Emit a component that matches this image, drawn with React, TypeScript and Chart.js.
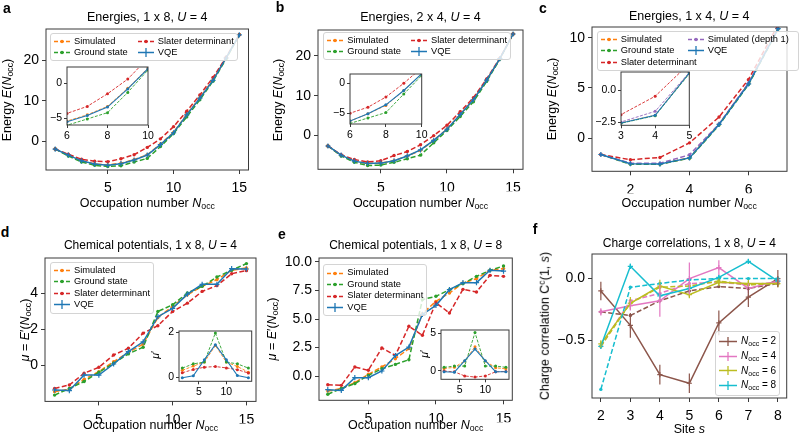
import React, { useEffect, useRef } from "react";
import { Chart, registerables } from "chart.js";
Chart.register(...registerables);

const FONT = '"Liberation Sans", Arial, Helvetica, sans-serif';
Chart.defaults.font.family = FONT;

const BLUE = "#1f77b4", ORANGE = "#ff7f0e", GREEN = "#2ca02c", RED = "#d62728", PURPLE = "#9467bd";
const BROWN = "#8c564b", PINK = "#e377c2", OLIVE = "#bcbd22", CYAN = "#17becf";

// ---------------- data ----------------
// panel a: energies 1x8, U=4
const nOccA = [1, 2, 3, 4, 5, 6, 7, 8, 9, 10, 11, 12, 13, 14, 15];
const aVQE = [-1.9, -3.4, -4.8, -5.6, -5.9, -5.5, -4.6, -3.4, -0.8, 2.1, 6.5, 10.6, 15.0, 20.5, 26.2];
const aSim = [-1.9, -3.4, -4.8, -5.6, -5.8, -5.4, -4.5, -3.3, -0.7, 2.2, 6.6, 10.7, 15.1, 20.5, 26.2];
const aGround = [-1.9, -3.6, -5.1, -5.9, -6.2, -6.0, -5.1, -4.2, -1.3, 1.9, 6.0, 10.2, 14.8, 20.3, 26.2];
const aSlater = [-1.9, -3.2, -4.4, -4.9, -5.0, -4.3, -3.3, -1.5, 0.6, 3.6, 7.4, 11.4, 15.7, 20.7, 26.2];

// panel b: energies 2x4, U=4
const nOccB = [1, 2, 3, 4, 5, 6, 7, 8, 9, 10, 11, 12, 13, 14, 15];
const bVQE = [-2.6, -4.9, -6.4, -7.0, -6.9, -6.3, -5.1, -3.6, -1.2, 1.6, 5.3, 9.0, 13.9, 19.3, 25.5];
const bSim = [-2.6, -4.9, -6.4, -7.0, -6.9, -6.3, -5.1, -3.7, -1.2, 1.6, 5.3, 9.0, 13.9, 19.3, 25.5];
const bGround = [-2.6, -5.1, -6.7, -7.5, -7.4, -6.7, -5.8, -4.9, -1.8, 1.3, 4.8, 8.5, 13.6, 19.2, 25.5];
const bSlater = [-2.6, -4.8, -6.0, -6.6, -6.3, -5.0, -4.0, -2.3, 0.0, 2.6, 6.0, 9.5, 14.2, 19.4, 25.5];

// panel c: energies 1x4, U=4
const nOccC = [1, 2, 3, 4, 5, 6, 7];
const cVQE = [-1.63, -2.55, -2.58, -1.97, 1.36, 5.4, 10.9];
const cSim = [-1.63, -2.55, -2.58, -1.97, 1.38, 5.45, 10.9];
const cGround = [-1.63, -2.6, -2.6, -2.0, 1.3, 5.35, 10.85];
const cSlater = [-1.63, -2.15, -1.92, -0.47, 2.1, 5.85, 11.3];
const cDepth1 = [-1.63, -2.5, -2.5, -1.66, 1.4, 5.5, 10.9];

// panel d: chemical potentials 1x8, U=4
const nOccMu = [2, 3, 4, 5, 6, 7, 8, 9, 10, 11, 12, 13, 14, 15];
const dVQE = [-1.37, -1.4, -0.54, -0.54, 0.07, 0.76, 1.3, 2.69, 3.15, 3.94, 4.48, 4.48, 5.35, 5.33];
const dSim = [-1.46, -1.33, -0.78, -0.35, 0.2, 0.72, 1.17, 2.65, 3.26, 3.9, 4.37, 4.74, 5.26, 5.39];
const dGround = [-1.65, -1.28, -0.9, -0.39, 0.11, 0.63, 1.0, 2.98, 3.35, 4.0, 4.37, 4.89, 5.26, 5.63];
const dSlater = [-1.28, -1.09, -0.44, -0.11, 0.57, 0.94, 1.78, 2.19, 2.98, 3.44, 4.09, 4.41, 5.07, 5.24];

// insets d/e: mu'
const nOccMuP = [2, 4, 6, 8, 10, 12, 14];
const ddVQE = [-0.03, 0.06, 0.77, 1.45, 0.77, 0.07, -0.03];
const ddSim = [0.3, 0.49, 0.67, 1.41, 0.67, 0.47, 0.22];
const ddGround = [0.4, 0.59, 0.67, 1.97, 0.67, 0.59, 0.4];
const ddSlater = [0.19, 0.34, 0.44, 0.47, 0.41, 0.33, 0.18];

// panel e: chemical potentials 1x8, U=8
const eVQE = [-1.2, -1.26, -0.15, -0.15, 0.44, 1.8, 2.54, 5.4, 6.2, 7.57, 8.19, 8.19, 9.27, 9.2];
const eSim = [-1.32, -1.1, -0.58, 0.15, 0.79, 1.52, 2.4, 5.47, 6.55, 7.28, 8.16, 8.54, 9.27, 9.42];
const eGround = [-1.6, -1.1, -0.67, 0.06, 0.64, 1.02, 1.43, 6.7, 6.99, 7.57, 8.1, 8.74, 9.27, 9.65];
const eSlater = [-0.76, -0.82, 0.79, 0.5, 2.46, 1.81, 4.36, 3.57, 6.43, 5.53, 7.6, 7.37, 8.83, 8.74];
const eeVQE = [-0.13, -0.2, 1.34, 2.9, 1.34, -0.13, -0.13];
const eeSim = [0.3, 0.45, 1.3, 3.2, 1.3, 0.4, 0.25];
const eeGround = [0.45, 0.62, 0.62, 5.1, 0.62, 0.62, 0.45];
const eeSlater = [-0.05, -0.15, -0.7, -0.85, -0.7, -0.15, -0.1];

// panel f: charge correlations
const sites = [2, 3, 4, 5, 6, 7, 8];
const f2 = [-0.1, -0.38, -0.78, -0.85, -0.36, -0.15, 0.0];
const f2err = [0.075, 0.1, 0.08, 0.08, 0.1, 0.08, 0.07];
const f2ref = [-0.27, -0.3, -0.18, -0.1, -0.065, -0.08, -0.04];
const f4 = [-0.27, -0.22, -0.18, 0.0, 0.09, -0.08, -0.02];
const f4err = [0.03, 0.04, 0.13, 0.13, 0.06, 0.04, 0.02];
const f4ref = [-0.55, -0.18, -0.12, -0.04, -0.03, -0.05, -0.03];
const f6 = [-0.53, -0.2, -0.06, -0.13, -0.03, -0.04, -0.04];
const f6err = [0.03, 0.05, 0.05, 0.03, 0.03, 0.03, 0.03];
const f6ref = [-0.55, -0.2, -0.07, -0.06, -0.02, -0.05, -0.04];
const f8 = [-0.55, 0.1, -0.14, -0.08, 0.01, 0.14, -0.02];
const f8err = [0.02, 0.02, 0.02, 0.02, 0.02, 0.02, 0.02];
const f8ref = [-0.9, -0.07, -0.04, -0.01, 0.0, 0.0, 0.0];

// ticks
const ticksE = [0, 10, 20];
const ticksN = [5, 10, 15];
const ticksInsetN = [6, 8, 10];
const ticksInsetE = [-5, 0];
const ticksC_X = [2, 4, 6];
const ticksC_Y = [0, 5, 10];
const ticksCInsetX = [3, 4, 5];
const ticksCInsetY = [-2.5, 0];
const ticksD_Y = [0, 2, 4];
const ticksE_Y = [0, 2.5, 5, 7.5, 10];
const ticksMuP_X = [5, 10];
const ticksDInsetY = [0, 2];
const ticksEInsetY = [0, 5];
const ticksSite = [2, 3, 4, 5, 6, 7, 8];
const ticksF_Y = [-0.5, 0];

// ---------------- chart helpers ----------------
type Series = {
  x: number[]; y: number[]; color: string; dash: boolean; cross?: boolean;
  lw: number; r: number; err?: number[];
};
type Spec = {
  L: number; T: number; R: number; B: number;
  xMin: number; xMax: number; yMin: number; yMax: number;
  xTicks: number[]; yTicks: number[]; yDec?: number; xDec?: number;
  series: Series[]; inset?: boolean;
};

function fmt(v: number, dec = 0) {
  const s = Math.abs(v).toFixed(dec);
  return v < 0 ? "\u2212" + s : s;
}

const main = (x: number[], y: number[], color: string, kind: "vqe" | "dash", err?: number[]): Series =>
  kind === "vqe"
    ? { x, y, color, dash: false, cross: true, lw: 1.5, r: 2.6, err }
    : { x, y, color, dash: true, lw: 1.5, r: 1.7 };
const small = (x: number[], y: number[], color: string, kind: "vqe" | "dash"): Series =>
  kind === "vqe"
    ? { x, y, color, dash: false, lw: 1.1, r: 1.5 }
    : { x, y, color, dash: true, lw: 0.9, r: 1.5 };

const errPlugin = {
  id: "errbars",
  afterDatasetsDraw(chart: any) {
    const ctx = chart.ctx;
    const xs = chart.scales.x, ys = chart.scales.y;
    const ca = chart.chartArea;
    chart.data.datasets.forEach((ds: any) => {
      if (!ds.errors) return;
      ctx.save();
      ctx.beginPath();
      ctx.rect(ca.left, ca.top, ca.right - ca.left, ca.bottom - ca.top);
      ctx.clip();
      ctx.strokeStyle = ds.borderColor;
      ctx.lineWidth = 1.2;
      ds.data.forEach((p: any, i: number) => {
        const e = ds.errors[i];
        const px = xs.getPixelForValue(p.x);
        ctx.beginPath();
        ctx.moveTo(px, ys.getPixelForValue(p.y - e));
        ctx.lineTo(px, ys.getPixelForValue(p.y + e));
        ctx.stroke();
      });
      ctx.restore();
    });
  },
};

const framePlugin = {
  id: "frame",
  beforeDraw(chart: any, _a: any, opts: any) {
    if (!opts || !opts.inset) return;
    const ca = chart.chartArea;
    const ctx = chart.ctx;
    ctx.save();
    ctx.fillStyle = "#ffffff";
    ctx.fillRect(ca.left, ca.top, ca.right - ca.left, ca.bottom - ca.top);
    ctx.restore();
  },
  afterDraw(chart: any) {
    const ca = chart.chartArea;
    const ctx = chart.ctx;
    ctx.save();
    ctx.strokeStyle = "#3a3a3a";
    ctx.lineWidth = 1;
    ctx.strokeRect(ca.left, ca.top, ca.right - ca.left, ca.bottom - ca.top);
    ctx.restore();
  },
};

function ChartBox({ spec }: { spec: Spec }) {
  const ref = useRef<HTMLCanvasElement>(null);
  const PL = 60, PT = 14;
  const W = spec.R - spec.L, H = spec.B - spec.T;
  const cw = Math.ceil(W + PL + 30);
  const ch = Math.ceil(H + PT + 34);
  const PR = cw - PL - W;
  const PB = ch - PT - H;
  const tickFont = spec.inset ? 10.5 : 14;
  const tl = spec.inset ? 3 : 4;
  const yW = 40, xH = 22;

  useEffect(() => {
    const datasets = spec.series.map((s) => ({
      data: s.x.map((x, i) => ({ x, y: s.y[i] })),
      showLine: true,
      borderColor: s.color,
      backgroundColor: s.color,
      borderWidth: s.lw,
      borderDash: s.dash ? (spec.inset ? [3, 1.5] : [5, 2.4]) : [],
      pointStyle: s.cross ? "cross" : "circle",
      pointRadius: s.r,
      pointHoverRadius: s.r,
      pointBorderWidth: s.cross ? 1.2 : 0,
      pointBorderColor: s.color,
      pointBackgroundColor: s.color,
      tension: 0,
      errors: s.err,
    }));
    const axis = (ticks: number[], dec: number, horiz: boolean, min: number, max: number) => ({
      type: "linear" as const,
      min,
      max,
      afterFit: (sc: any) => {
        if (horiz) sc.height = xH;
        else sc.width = yW;
      },
      afterBuildTicks: (sc: any) => {
        sc.ticks = ticks.map((v) => ({ value: v }));
      },
      grid: {
        display: true,
        drawOnChartArea: false,
        drawTicks: true,
        tickLength: tl,
        color: "#3a3a3a",
        lineWidth: 1,
      },
      border: { display: false },
      ticks: {
        color: "#000",
        font: { size: tickFont, family: FONT },
        padding: spec.inset ? 2 : horiz ? 6 : 3,
        maxRotation: 0,
        autoSkip: false,
        callback: (v: any) => fmt(Number(v), dec),
      },
    });
    const chart = new Chart(ref.current as HTMLCanvasElement, {
      type: "scatter",
      data: { datasets: datasets as any },
      options: {
        responsive: false,
        animation: false,
        devicePixelRatio: 1,
        events: [],
        layout: { padding: { left: PL - yW, right: PR, top: PT, bottom: PB - xH } },
        plugins: {
          legend: { display: false },
          tooltip: { enabled: false },
          frame: { inset: !!spec.inset },
        } as any,
        scales: {
          x: axis(spec.xTicks, spec.xDec ?? 0, true, spec.xMin, spec.xMax) as any,
          y: axis(spec.yTicks, spec.yDec ?? 0, false, spec.yMin, spec.yMax) as any,
        },
      },
      plugins: [framePlugin, errPlugin],
    });
    return () => chart.destroy();
  }, []);

  return (
    <canvas
      ref={ref}
      width={cw}
      height={ch}
      style={{ position: "absolute", left: spec.L - PL, top: spec.T - PT, width: cw, height: ch }}
    />
  );
}

// ---------------- text helpers ----------------
const Txt = ({ x, y, size = 12.5, rot = false, bold = false, children }: any) => (
  <div
    style={{
      position: "absolute",
      left: x,
      top: y,
      transform: `translate(-50%,-50%)${rot ? " rotate(-90deg)" : ""}`,
      fontSize: size,
      fontWeight: bold ? "bold" : "normal",
      whiteSpace: "nowrap",
      lineHeight: 1,
      fontFamily: FONT,
      color: "#000",
    }}
  >
    {children}
  </div>
);
const Sub = ({ children }: any) => (
  <sub style={{ fontSize: "70%", verticalAlign: "-0.3em", lineHeight: 0 }}>{children}</sub>
);
const Sup = ({ children }: any) => (
  <sup style={{ fontSize: "70%", verticalAlign: "0.5em", lineHeight: 0 }}>{children}</sup>
);
const Nocc = () => (
  <>
    <i>N</i>
    <Sub>occ</Sub>
  </>
);

type LegItem = { label: any; color: string; dash: boolean; err?: boolean };
function Legend({ x, y, cols, rowH = 11, gap = 10, fs = 9.3, hw = 16, colW, width }: any) {
  return (
    <div
      style={{
        position: "absolute",
        left: x,
        top: y,
        display: "flex",
        gap,
        width,
        boxSizing: "border-box",
        padding: "2px 3px 2px 3px",
        border: "1px solid #d4d4d4",
        borderRadius: 3,
        background: "rgba(255,255,255,0.8)",
        fontSize: fs,
        lineHeight: 1,
        fontFamily: FONT,
        color: "#000",
      }}
    >
      {cols.map((col: LegItem[], ci: number) => (
        <div key={ci} style={{ display: "flex", flexDirection: "column", width: colW ? colW[ci] : undefined, flex: "none" }}>
          {col.map((it, i) => (
            <div key={i} style={{ display: "flex", alignItems: "center", height: rowH, whiteSpace: "nowrap" }}>
              <svg width={hw} height={9} style={{ marginRight: 4, flex: "none" }}>
                <line x1={0} y1={4.5} x2={hw} y2={4.5} stroke={it.color} strokeWidth={1.5}
                  strokeDasharray={it.dash ? "4 2" : undefined} />
                {it.err ? (
                  <line x1={hw / 2} y1={0} x2={hw / 2} y2={9} stroke={it.color} strokeWidth={1.3} />
                ) : (
                  <circle cx={hw / 2} cy={4.5} r={1.7} fill={it.color} />
                )}
              </svg>
              <span>{it.label}</span>
            </div>
          ))}
        </div>
      ))}
    </div>
  );
}

const L_SIM: LegItem = { label: "Simulated", color: ORANGE, dash: true };
const L_GS: LegItem = { label: "Ground state", color: GREEN, dash: true };
const L_SD: LegItem = { label: "Slater determinant", color: RED, dash: true };
const L_VQE: LegItem = { label: "VQE", color: BLUE, dash: false, err: true };
const L_D1: LegItem = { label: "Simulated (depth 1)", color: PURPLE, dash: true };

// ---------------- specs ----------------
const specA: Spec = {
  L: 46, T: 29, R: 248.5, B: 170, xMin: 0.3, xMax: 15.7, yMin: -7.06, yMax: 27.63,
  xTicks: ticksN, yTicks: ticksE,
  series: [
    main(nOccA, aVQE, BLUE, "vqe"), main(nOccA, aSlater, RED, "dash"),
    main(nOccA, aGround, GREEN, "dash"), main(nOccA, aSim, ORANGE, "dash"),
  ],
};
const specAi: Spec = {
  L: 67, T: 67, R: 148, B: 125, xMin: 6, xMax: 10, yMin: -5.96, yMax: 2.33,
  xTicks: ticksInsetN, yTicks: ticksInsetE, inset: true,
  series: [
    small(nOccA, aVQE, BLUE, "vqe"), small(nOccA, aSlater, RED, "dash"),
    small(nOccA, aGround, GREEN, "dash"), small(nOccA, aSim, ORANGE, "dash"),
  ],
};
const specB: Spec = {
  L: 318, T: 30, R: 523, B: 169.3, xMin: 0.25, xMax: 15.75, yMin: -8.45, yMax: 26.5,
  xTicks: ticksN, yTicks: ticksE,
  series: [
    main(nOccB, bVQE, BLUE, "vqe"), main(nOccB, bSlater, RED, "dash"),
    main(nOccB, bGround, GREEN, "dash"), main(nOccB, bSim, ORANGE, "dash"),
  ],
};
const specBi: Spec = {
  L: 350, T: 74, R: 421.7, B: 124, xMin: 6, xMax: 10, yMin: -6.8, yMax: 1.55,
  xTicks: ticksInsetN, yTicks: ticksInsetE, inset: true,
  series: [
    small(nOccB, bVQE, BLUE, "vqe"), small(nOccB, bSlater, RED, "dash"),
    small(nOccB, bGround, GREEN, "dash"), small(nOccB, bSim, ORANGE, "dash"),
  ],
};
const specC: Spec = {
  L: 591.7, T: 26.7, R: 786.7, B: 171, xMin: 0.7, xMax: 7.3, yMin: -3.3, yMax: 11.06,
  xTicks: ticksC_X, yTicks: ticksC_Y,
  series: [
    main(nOccC, cVQE, BLUE, "vqe"), main(nOccC, cDepth1, PURPLE, "dash"),
    main(nOccC, cSlater, RED, "dash"), main(nOccC, cGround, GREEN, "dash"),
    main(nOccC, cSim, ORANGE, "dash"),
  ],
};
const specCi: Spec = {
  L: 620.7, T: 71.7, R: 689, B: 125, xMin: 3, xMax: 5, yMin: -2.76, yMax: 1.44,
  xTicks: ticksCInsetX, yTicks: ticksCInsetY, yDec: 1, inset: true,
  series: [
    small(nOccC, cVQE, BLUE, "vqe"), small(nOccC, cDepth1, PURPLE, "dash"),
    small(nOccC, cSlater, RED, "dash"), small(nOccC, cGround, GREEN, "dash"),
    small(nOccC, cSim, ORANGE, "dash"),
  ],
};
const specD: Spec = {
  L: 45, T: 258.3, R: 256, B: 401.7, xMin: 1.35, xMax: 15.65, yMin: -2.0, yMax: 5.94,
  xTicks: ticksN, yTicks: ticksD_Y,
  series: [
    main(nOccMu, dVQE, BLUE, "vqe"), main(nOccMu, dSlater, RED, "dash"),
    main(nOccMu, dGround, GREEN, "dash"), main(nOccMu, dSim, ORANGE, "dash"),
  ],
};
const specDi: Spec = {
  L: 179.3, T: 330.7, R: 252, B: 381, xMin: 1.4, xMax: 14.6, yMin: -0.19, yMax: 2.06,
  xTicks: ticksMuP_X, yTicks: ticksDInsetY, inset: true,
  series: [
    small(nOccMuP, ddVQE, BLUE, "vqe"), small(nOccMuP, ddSlater, RED, "dash"),
    small(nOccMuP, ddGround, GREEN, "dash"), small(nOccMuP, ddSim, ORANGE, "dash"),
  ],
};
const specE: Spec = {
  L: 319, T: 257.7, R: 512.3, B: 400, xMin: 1.35, xMax: 15.65, yMin: -2.13, yMax: 10.35,
  xTicks: ticksN, yTicks: ticksE_Y, yDec: 1,
  series: [
    main(nOccMu, eVQE, BLUE, "vqe"), main(nOccMu, eSlater, RED, "dash"),
    main(nOccMu, eGround, GREEN, "dash"), main(nOccMu, eSim, ORANGE, "dash"),
  ],
};
const specEi: Spec = {
  L: 441, T: 330, R: 509, B: 379.3, xMin: 1.4, xMax: 14.6, yMin: -1.15, yMax: 5.45,
  xTicks: ticksMuP_X, yTicks: ticksEInsetY, inset: true,
  series: [
    small(nOccMuP, eeVQE, BLUE, "vqe"), small(nOccMuP, eeSlater, RED, "dash"),
    small(nOccMuP, eeGround, GREEN, "dash"), small(nOccMuP, eeSim, ORANGE, "dash"),
  ],
};
const specF: Spec = {
  L: 592, T: 254, R: 786.7, B: 398, xMin: 1.7, xMax: 8.3, yMin: -0.97, yMax: 0.2,
  xTicks: ticksSite, yTicks: ticksF_Y, yDec: 1,
  series: [
    main(sites, f8ref, CYAN, "dash"), main(sites, f8, CYAN, "vqe", f8err),
    main(sites, f6ref, OLIVE, "dash"), main(sites, f6, OLIVE, "vqe", f6err),
    main(sites, f4ref, PINK, "dash"), main(sites, f4, PINK, "vqe", f4err),
    main(sites, f2ref, BROWN, "dash"), main(sites, f2, BROWN, "vqe", f2err),
  ],
};

export default function App() {
  useEffect(() => {
    document.body.style.margin = "0";
    document.body.style.background = "#fff";
  }, []);
  const energyLabel = (
    <>
      Energy <i>E</i>(<Nocc />)
    </>
  );
  const muLabel = (
    <>
      <i>μ</i> = <i>E</i>′(<Nocc />)
    </>
  );
  const occLabel = (
    <>
      Occupation number <Nocc />
    </>
  );
  return (
    <div style={{ position: "absolute", left: 0, top: 0, width: 800, height: 443, overflow: "hidden", background: "#fff" }}>
      <ChartBox spec={specA} />
      <ChartBox spec={specAi} />
      <ChartBox spec={specB} />
      <ChartBox spec={specBi} />
      <ChartBox spec={specC} />
      <ChartBox spec={specCi} />
      <ChartBox spec={specD} />
      <ChartBox spec={specDi} />
      <ChartBox spec={specE} />
      <ChartBox spec={specEi} />
      <ChartBox spec={specF} />

      {/* panel letters */}
      <Txt x={7} y={8} size={14} bold>a</Txt>
      <Txt x={280} y={7} size={14} bold>b</Txt>
      <Txt x={543} y={8} size={14} bold>c</Txt>
      <Txt x={5} y={232} size={14} bold>d</Txt>
      <Txt x={282} y={234} size={14} bold>e</Txt>
      <Txt x={535} y={229} size={14} bold>f</Txt>

      {/* titles */}
      <Txt x={147.3} y={17}>Energies, 1 x 8, <i>U</i> = 4</Txt>
      <Txt x={420.5} y={17}>Energies, 2 x 4, <i>U</i> = 4</Txt>
      <Txt x={689.2} y={16}>Energies, 1 x 4, <i>U</i> = 4</Txt>
      <Txt x={150.5} y={245} size={12}>Chemical potentials, 1 x 8, <i>U</i> = 4</Txt>
      <Txt x={415.7} y={245} size={12}>Chemical potentials, 1 x 8, <i>U</i> = 8</Txt>
      <Txt x={689.3} y={243} size={12}>Charge correlations, 1 x 8, <i>U</i> = 4</Txt>

      {/* x labels */}
      <Txt x={147.3} y={203}>{occLabel}</Txt>
      <Txt x={420.5} y={203}>{occLabel}</Txt>
      <Txt x={689.2} y={203}>{occLabel}</Txt>
      <Txt x={150.5} y={425}>{occLabel}</Txt>
      <Txt x={415.7} y={425}>{occLabel}</Txt>
      <Txt x={689.3} y={429}>Site <i>s</i></Txt>

      {/* y labels */}
      <Txt x={7} y={99.5} rot>{energyLabel}</Txt>
      <Txt x={278.3} y={100} rot>{energyLabel}</Txt>
      <Txt x={551.7} y={99} rot>{energyLabel}</Txt>
      <Txt x={25} y={330} rot>{muLabel}</Txt>
      <Txt x={271.5} y={329} rot>{muLabel}</Txt>
      <Txt x={545} y={326} rot>Charge correlation C<Sup>c</Sup>(1, <i>s</i>)</Txt>
      <Txt x={155} y={355} size={10.5} rot><i>μ</i>′</Txt>
      <Txt x={424.3} y={354} size={10.5} rot><i>μ</i>′</Txt>

      {/* legends */}
      <Legend x={50} y={32.7} cols={[[L_SIM, L_GS], [L_SD, L_VQE]]} />
      <Legend x={323.3} y={32.3} cols={[[L_SIM, L_GS], [L_SD, L_VQE]]} />
      <Legend x={596.7} y={31} cols={[[L_SIM, L_GS, L_SD], [L_D1, L_VQE]]} gap={0} colW={[87, 110]} width={202} rowH={11.3} />
      <Legend x={50} y={261.7} cols={[[L_SIM, L_GS, L_SD, L_VQE]]} rowH={11.5} />
      <Legend x={323.3} y={264.3} cols={[[L_SIM, L_GS, L_SD, L_VQE]]} rowH={11.5} />
      <Legend
        x={715}
        y={331}
        rowH={14.7}
        fs={10}
        hw={18}
        cols={[[
          { label: <><Nocc /> = 2</>, color: BROWN, dash: false, err: true },
          { label: <><Nocc /> = 4</>, color: PINK, dash: false, err: true },
          { label: <><Nocc /> = 6</>, color: OLIVE, dash: false, err: true },
          { label: <><Nocc /> = 8</>, color: CYAN, dash: false, err: true },
        ]]}
      />
    </div>
  );
}
